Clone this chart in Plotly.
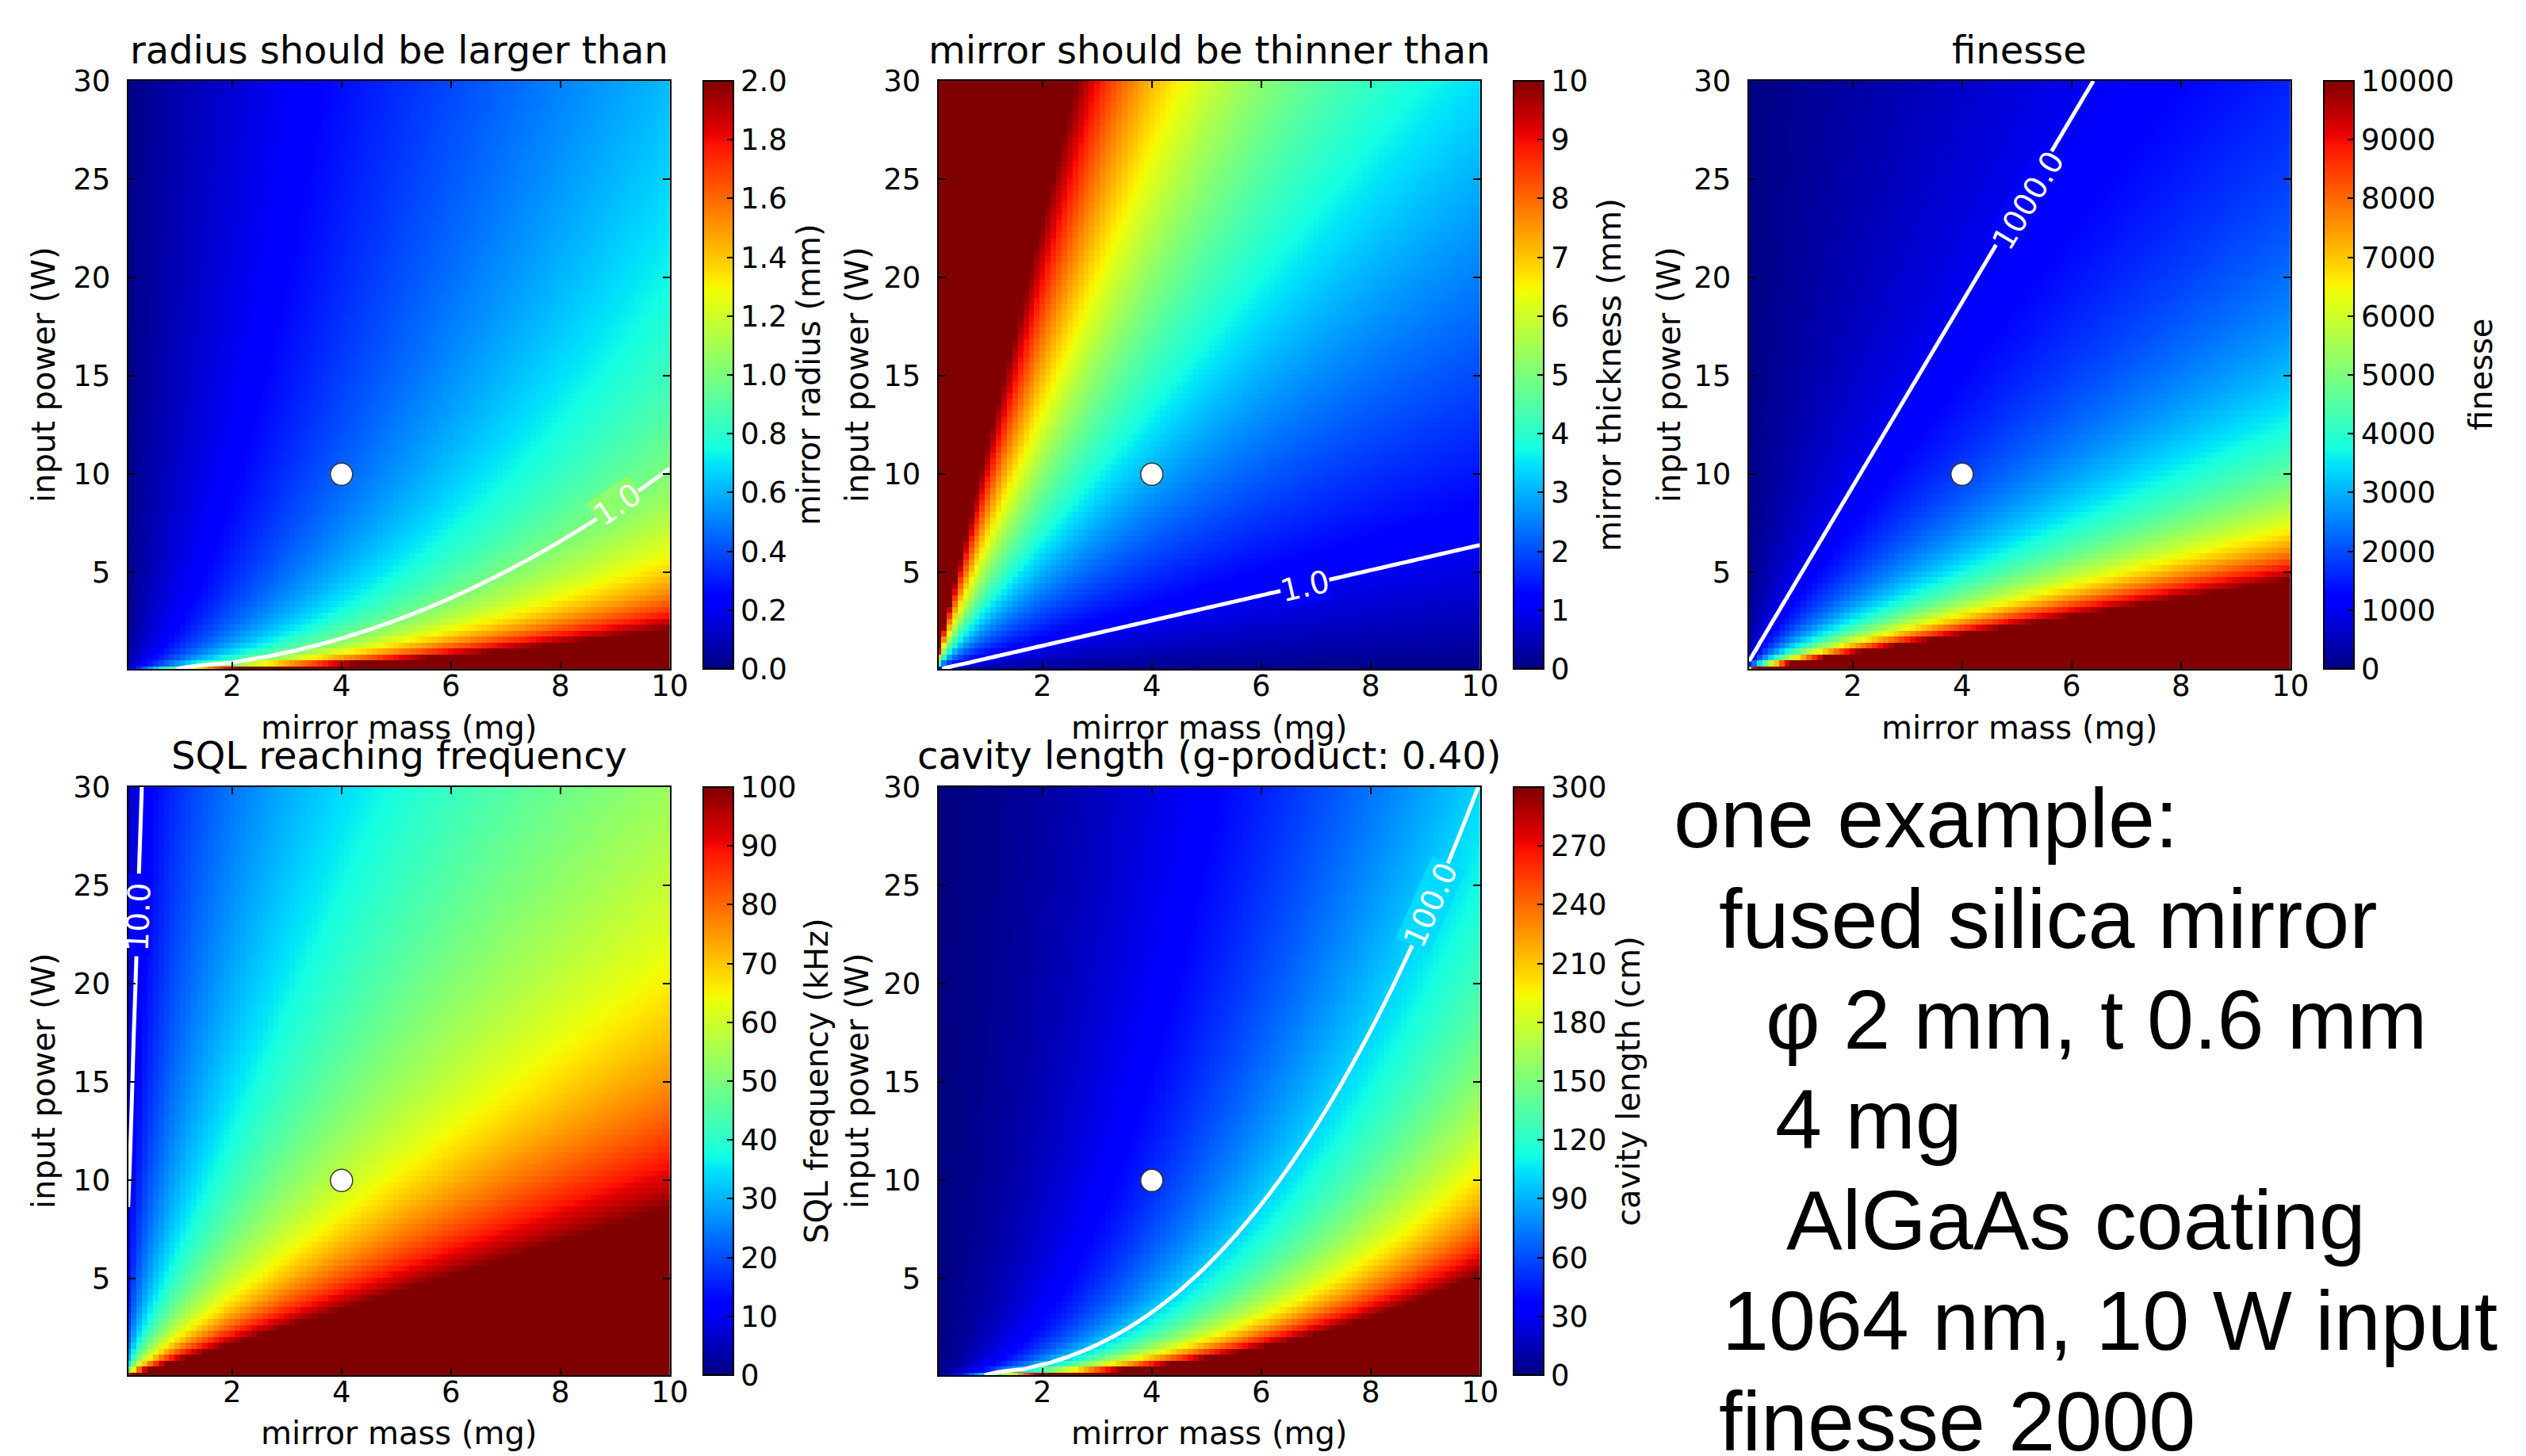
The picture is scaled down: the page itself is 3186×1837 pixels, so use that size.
import numpy as np
import plotly.graph_objects as go

W, H = 3186, 1837

# grid of the maps (mass in mg, input power in W)
mass_mg = np.linspace(0.1, 10.0, 100)
power_w = np.linspace(0.1, 30.0, 100)

# the example design marked with the white dot
example_mass = [4.0]
example_power = [10.0]

# scaling laws, calibrated on the contours / colour bands
# [mass (mg), power (W), value on that point]
radius_ref = [10.0, 10.3, 1.0]      # r ~ (m^2 / P)^0.45
radius_exp = 0.45
thick_ref = [10.0, 6.4, 1.0]        # t ~ (P / m)^0.8
thick_exp = 0.8
finesse_ref = [6.4, 30.0, 1000.0]   # F ~ m / P
sql_ref = [4.0, 10.0, 58.8]         # f ~ (m / P)^0.5
sql_exp = 0.5
length_ref = [9.94, 29.8, 100.0]    # L ~ (m^2.42 / P)^0.63
length_mass_exp = 2.42
length_exp = 0.63

titles = ["radius should be larger than", "mirror should be thinner than", "finesse",
          "SQL reaching frequency", "cavity length (g-product: 0.40)"]
cbar_titles = ["mirror radius (mm)", "mirror thickness (mm)", "finesse",
               "SQL frequency (kHz)", "cavity length (cm)"]
zmax_list = [2.0, 10, 10000, 100, 300]
cbar_ticks = [[0.2 * i for i in range(11)], list(range(0, 11)), list(range(0, 10001, 1000)),
              list(range(0, 101, 10)), list(range(0, 301, 30))]
cbar_fmt = [".1f", "d", "d", "d", "d"]
contour_levels = [1.0, 1.0, 1000.0, 10.0, 100.0]
contour_labels = ["1.0", "1.0", "1000.0", "10.0", "100.0"]
# where the inline contour labels sit (mass, power), their tilt and the colour behind them
label_mass = [9.05, 6.8, 5.2, 0.29, 9.1]
label_power = [8.45, 4.3, 23.9, 23.4, 24.0]
label_angle = [-34, -13, -59, -88, -66]
label_shade = [0.52, 0.11, 0.115, 0.115, 0.34]
# labels squeezed against the frame: cut the line with a patch instead of a text box
label_patch = [None, None, None, [0.1, 0.5, 21.4, 25.6], None]
x_ticks = [2, 4, 6, 8, 10]
y_ticks = [5, 10, 15, 20, 25, 30]

note_lines = ["one example:", "fused silica mirror", "\u03c6 2 mm, t 0.6 mm", "4 mg",
              "AlGaAs coating", "1064 nm, 10 W input", "finesse 2000"]

M, P = np.meshgrid(mass_mg, power_w)

radius = radius_ref[2] * ((M ** 2 / P) / (radius_ref[0] ** 2 / radius_ref[1])) ** radius_exp
thick = thick_ref[2] * ((P / M) / (thick_ref[1] / thick_ref[0])) ** thick_exp
finesse = finesse_ref[2] * (M / P) / (finesse_ref[0] / finesse_ref[1])
sql = sql_ref[2] * ((M / P) / (sql_ref[0] / sql_ref[1])) ** sql_exp
length = length_ref[2] * ((M ** length_mass_exp / P) /
                          (length_ref[0] ** length_mass_exp / length_ref[1])) ** length_exp
fields = [radius, thick, finesse, sql, length]

# matplotlib's jet segment data
JET_R = [(0, 0), (0.35, 0), (0.66, 1), (0.89, 1), (1, 0.5)]
JET_G = [(0, 0), (0.125, 0), (0.375, 1), (0.64, 1), (0.91, 0), (1, 0)]
JET_B = [(0, 0.5), (0.11, 1), (0.34, 1), (0.65, 0), (1, 0)]


def jet_color(s):
    chans = []
    for seg in (JET_R, JET_G, JET_B):
        chans.append(int(round(255 * np.interp(s, [p for p, _ in seg], [v for _, v in seg]))))
    return 'rgb({},{},{})'.format(*chans)


def mpl_jet():
    stops = sorted(set([p for p, _ in JET_R + JET_G + JET_B]))
    return [[s, jet_color(s)] for s in stops]


JET = mpl_jet()

# pixel layout of the panels
col_left = [153.7, 1175.7, 2197.7]
row_top = [94.0, 985.0]
plot_w, plot_h = 683.0, 742.0
cbar_left = [879.0, 1901.0, 2923.0]
cbar_w = 38
ylabel_x = [47, 1073, 2097]
cbar_title_x = [[1012, 2022, 3121], [1022, 2046]]
xlabel_y = [910, 1800]
title_y = [55, 945]

FONT = "DejaVu Sans"
TICK_SIZE = 37
LABEL_SIZE = 40
TITLE_SIZE = 48

fig = go.Figure()
annotations = []
shapes = []
layout_axes = {}

for idx in range(5):
    row, col = divmod(idx, 3)
    n = idx + 1
    xa = 'x' if n == 1 else 'x{}'.format(n)
    ya = 'y' if n == 1 else 'y{}'.format(n)
    x0 = col_left[col]
    y0 = row_top[row]
    z = fields[idx]

    fig.add_trace(go.Heatmap(
        x=mass_mg, y=power_w, z=z, zmin=0, zmax=zmax_list[idx], colorscale=JET,
        zsmooth=False, hoverinfo='skip', xaxis=xa, yaxis=ya,
        colorbar=dict(
            x=cbar_left[col] / W, xanchor='left', y=1 - (y0 + plot_h / 2) / H, yanchor='middle',
            len=plot_h, lenmode='pixels', thickness=cbar_w, thicknessmode='pixels',
            xpad=0, ypad=0, outlinewidth=2, outlinecolor='black',
            ticks='inside', ticklen=9, tickwidth=1.5, tickcolor='black',
            tickvals=cbar_ticks[idx], tickformat=cbar_fmt[idx],
            tickfont=dict(family=FONT, size=TICK_SIZE, color='black'))))

    fig.add_trace(go.Contour(
        x=mass_mg, y=power_w, z=z, showscale=False, hoverinfo='skip',
        contours=dict(start=contour_levels[idx], end=contour_levels[idx], size=1,
                      coloring='none', showlabels=False),
        line=dict(color='white', width=5), xaxis=xa, yaxis=ya))

    fig.add_trace(go.Scatter(
        x=example_mass, y=example_power, mode='markers', showlegend=False, hoverinfo='skip',
        marker=dict(size=28, color='white', line=dict(color='#333333', width=1.5)),
        xaxis=xa, yaxis=ya))

    axis_common = dict(showline=True, linecolor='black', linewidth=2, mirror='ticks',
                       ticks='inside', ticklen=9, tickwidth=1.5, tickcolor='black',
                       showgrid=False, zeroline=False, automargin=False,
                       tickfont=dict(family=FONT, size=TICK_SIZE, color='black'))
    layout_axes['xaxis' if n == 1 else 'xaxis{}'.format(n)] = dict(
        domain=[x0 / W, (x0 + plot_w) / W], anchor=ya, range=[0.1, 10.0],
        tickvals=x_ticks, ticklabelstandoff=-12, **axis_common)
    layout_axes['yaxis' if n == 1 else 'yaxis{}'.format(n)] = dict(
        domain=[1 - (y0 + plot_h) / H, 1 - y0 / H], anchor=xa, range=[0.1, 30.0],
        tickvals=y_ticks, ticklabelstandoff=13, **axis_common)

    # inline contour label; the line is cut around it in the local colour
    lab = dict(text=contour_labels[idx], x=label_mass[idx], y=label_power[idx], xref=xa, yref=ya,
               textangle=label_angle[idx], borderpad=0,
               font=dict(family=FONT, size=LABEL_SIZE - 1, color='white'))
    patch = label_patch[idx]
    if patch is None:
        lab['bgcolor'] = jet_color(label_shade[idx])
    else:
        shapes.append(dict(type='rect', xref=xa, yref=ya, x0=patch[0], x1=patch[1],
                           y0=patch[2], y1=patch[3], layer='above', line=dict(width=0),
                           fillcolor=jet_color(label_shade[idx])))
    annotations.append(lab)

    cx = x0 + plot_w / 2
    cy = y0 + plot_h / 2
    paper = dict(xref='paper', yref='paper')
    annotations.append(dict(text=titles[idx], x=cx / W, y=1 - title_y[row] / H, **paper,
                            font=dict(family=FONT, size=TITLE_SIZE, color='black')))
    annotations.append(dict(text="mirror mass (mg)", x=cx / W, y=1 - xlabel_y[row] / H, **paper,
                            font=dict(family=FONT, size=LABEL_SIZE, color='black')))
    annotations.append(dict(text="input power (W)", x=ylabel_x[col] / W, y=1 - cy / H,
                            textangle=-90, **paper,
                            font=dict(family=FONT, size=LABEL_SIZE, color='black')))
    annotations.append(dict(text=cbar_titles[idx], x=cbar_title_x[row][col] / W, y=1 - cy / H,
                            textangle=-90, **paper,
                            font=dict(family=FONT, size=LABEL_SIZE, color='black')))

for a in annotations:
    a.update(showarrow=False, xanchor='center', yanchor='middle')

note_x = [2101, 2158, 2217, 2229, 2243, 2162, 2158]
note_y = [1024, 1151, 1278, 1404, 1531, 1658, 1785]
for line, px, py in zip(note_lines, note_x, note_y):
    annotations.append(dict(text=line, x=px / W, y=1 - py / H, xref='paper', yref='paper',
                            showarrow=False, xanchor='left', yanchor='middle',
                            font=dict(family="Liberation Sans", size=106, color='black')))

fig.update_layout(width=W, height=H, margin=dict(l=0, r=0, t=0, b=0),
                  paper_bgcolor='white', plot_bgcolor='white', showlegend=False,
                  annotations=annotations, shapes=shapes, **layout_axes)

fig.write_html("out.html")
